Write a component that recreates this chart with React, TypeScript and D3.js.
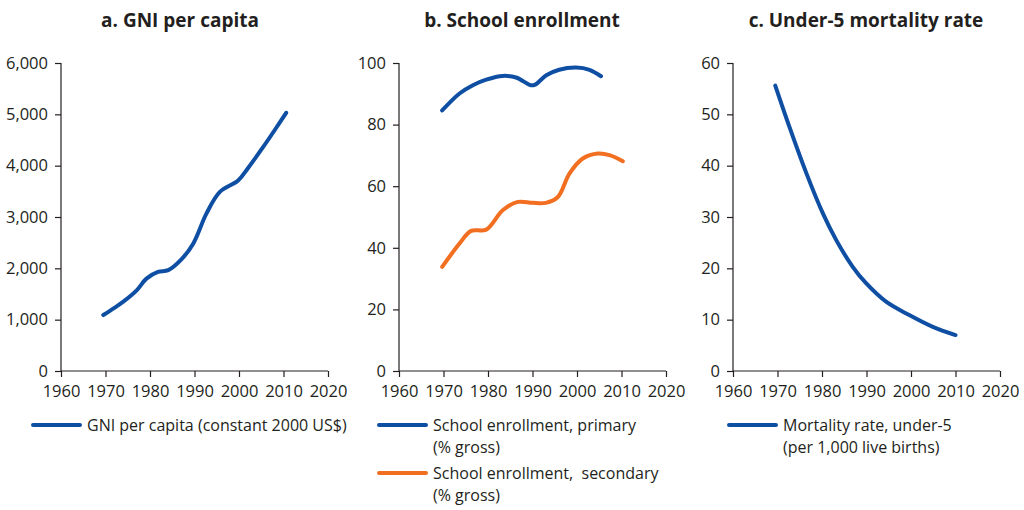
import * as d3 from 'd3';
import { useEffect, useRef } from 'react';

const years = [1960, 2020];
const xTicks = [1960, 1970, 1980, 1990, 2000, 2010, 2020];

const gniYears = [1969.5, 1972, 1974, 1977, 1979.2, 1981.8, 1984.1, 1987, 1989.7, 1992.7, 1995.7, 1999.8, 2002, 2005.4, 2008, 2010.6];
const gniValues = [1090, 1230, 1350, 1570, 1800, 1930, 1965, 2170, 2480, 3070, 3490, 3710, 3950, 4360, 4690, 5030];

const primaryYears = [1969.7, 1973.6, 1976.6, 1979.6, 1983.3, 1986.3, 1989.6, 1990.6, 1993.1, 1996, 1999.8, 2002.8, 2005.4];
const primaryValues = [84.6, 90.1, 92.8, 94.6, 95.8, 95.3, 92.8, 93.0, 96.0, 97.8, 98.5, 97.8, 95.7];

const secondaryYears = [1969.7, 1973.6, 1976.2, 1979.6, 1983.3, 1986.7, 1990, 1993, 1995.7, 1998.3, 2001.3, 2004.7, 2007.3, 2010.3];
const secondaryValues = [33.8, 41.4, 45.5, 45.9, 52.2, 54.9, 54.6, 54.6, 56.5, 64.1, 69.0, 70.6, 70.1, 68.1];

const mortYears = [1969.5, 1972.7, 1976.5, 1980.2, 1983.2, 1986.9, 1989.9, 1994.4, 1999.6, 2004.9, 2010];
const mortValues = [55.6, 47.5, 38.5, 30.7, 25.5, 20.3, 17.1, 13.5, 10.9, 8.6, 7.0];

const blue = '#0f4fa3';
const orange = '#f26f21';
const ink = '#231f20';
const font = "'Open Sans', sans-serif";

const panels = [
  {
    title: 'a. GNI per capita',
    left: 61, titleX: 180,
    yMax: 6000, yStep: 1000, fmt: d3.format(','),
    series: [{ years: gniYears, values: gniValues, color: blue }],
    legendX: 33,
    legend: [{ color: blue, lines: ['GNI per capita (constant 2000 US$)'] }],
  },
  {
    title: 'b. School enrollment',
    left: 399, titleX: 522,
    yMax: 100, yStep: 20, fmt: d3.format('d'),
    series: [
      { years: primaryYears, values: primaryValues, color: blue },
      { years: secondaryYears, values: secondaryValues, color: orange },
    ],
    legendX: 379,
    legend: [
      { color: blue, lines: ['School enrollment, primary', '(% gross)'] },
      { color: orange, lines: ['School enrollment,  secondary', '(% gross)'] },
    ],
  },
  {
    title: 'c. Under-5 mortality rate',
    left: 733, titleX: 866,
    yMax: 60, yStep: 10, fmt: d3.format('d'),
    series: [{ years: mortYears, values: mortValues, color: blue }],
    legendX: 729,
    legend: [{ color: blue, lines: ['Mortality rate, under-5', '(per 1,000 live births)'] }],
  },
];

const plotW = 267;
const top = 63;
const bottom = 371;

const Panel = ({ p }: { p: (typeof panels)[number] }) => {
  const xRef = useRef<SVGGElement>(null);
  const yRef = useRef<SVGGElement>(null);
  const x = d3.scaleLinear().domain(years).range([p.left, p.left + plotW]);
  const y = d3.scaleLinear().domain([0, p.yMax]).range([bottom, top]);

  useEffect(() => {
    const styleAxis = (g: d3.Selection<SVGGElement, unknown, null, undefined>) => {
      g.selectAll('path,line').attr('stroke', ink).attr('stroke-width', 1.2);
      g.selectAll('text')
        .attr('fill', ink)
        .style('font-family', font)
        .style('font-size', '16.5px');
    };
    d3.select(xRef.current!)
      .call(d3.axisBottom(x).tickValues(xTicks).tickSize(6).tickSizeOuter(6).tickFormat(d3.format('d')).tickPadding(8))
      .call(styleAxis);
    d3.select(yRef.current!)
      .call(d3.axisLeft(y).tickValues(d3.range(0, p.yMax + 1, p.yStep)).tickSize(6).tickSizeOuter(6).tickFormat(p.fmt as any).tickPadding(7))
      .call(styleAxis);
    d3.select(xRef.current!).select('.domain').attr('d', `M${p.left},0H${p.left + plotW}`);
    d3.select(yRef.current!).select('.domain').attr('d', `M0,${top}V${bottom}`);
  }, []);

  const line = d3
    .line<[number, number]>()
    .x((d) => x(d[0]))
    .y((d) => y(d[1]))
    .curve(d3.curveCatmullRom.alpha(0.5));

  let ly = 425;
  return (
    <g>
      <text x={p.titleX} y={27} textAnchor="middle" fontWeight="bold" fontSize={19} fill={ink} fontFamily={font}>
        {p.title}
      </text>
      <g ref={xRef} transform={`translate(0,${bottom})`} />
      <g ref={yRef} transform={`translate(${p.left},0)`} />
      {p.series.map((s, i) => (
        <path
          key={i}
          d={line(s.years.map((yr, j) => [yr, s.values[j]]))!}
          fill="none"
          stroke={s.color}
          strokeWidth={4}
          strokeLinecap="round"
        />
      ))}
      {p.legend.map((l, i) => {
        const y0 = ly;
        ly += 48;
        return (
          <g key={i}>
            <line x1={p.legendX} x2={p.legendX + 47} y1={y0} y2={y0} stroke={l.color} strokeWidth={4} strokeLinecap="round" />
            {l.lines.map((t, k) => (
              <text
                key={k}
                x={p.legendX + 54}
                y={y0 + 6 + k * 22}
                fontSize={16}
                fill={ink}
                fontFamily={font}
                style={{ whiteSpace: 'pre' }}
              >
                {t}
              </text>
            ))}
          </g>
        );
      })}
    </g>
  );
};

export default function App() {
  return (
    <svg width={1024} height={510} style={{ position: 'absolute', left: 0, top: 0, background: '#fff' }}>
      {panels.map((p, i) => (
        <Panel key={i} p={p} />
      ))}
    </svg>
  );
}
